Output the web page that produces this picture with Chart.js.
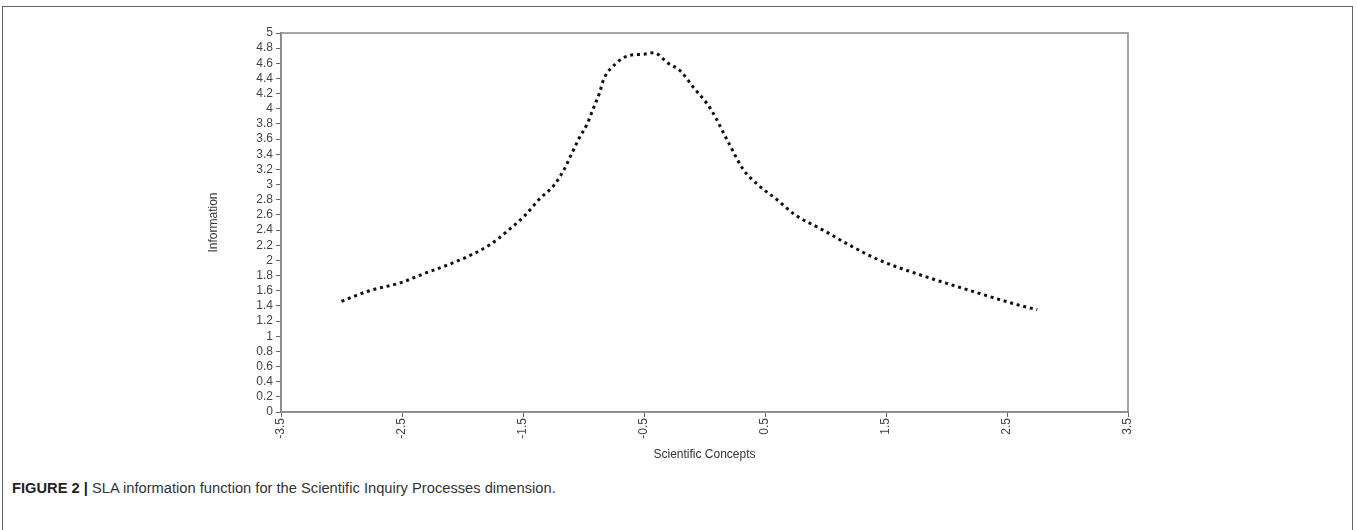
<!DOCTYPE html>
<html>
<head>
<meta charset="utf-8">
<script src="https://cdn.jsdelivr.net/npm/chart.js@4.4.1/dist/chart.umd.min.js"></script>
<style>
    html, body { margin: 0; padding: 0; background: #fff; }
    body { width: 1357px; height: 530px; position: relative; overflow: hidden; }
    #frame {
        position: absolute; left: 2px; top: 6px; width: 1351px; height: 560px;
        border: 1.5px solid #666; box-sizing: border-box;
    }
    #chart-box { position: absolute; left: 0; top: 0; width: 1357px; height: 470px; }
    #caption {
        position: absolute; left: 12px; top: 480px;
        font-family: "Liberation Sans", Arial, sans-serif;
        font-size: 14.7px; color: #333; white-space: nowrap;
    }
    #caption b { color: #222; }
</style>
</head>
<body>
<div id="frame"></div>
<div id="chart-box"><canvas id="infoChart"></canvas></div>
<div id="caption"><b>FIGURE 2 |</b> SLA information function for the Scientific Inquiry Processes dimension.</div>

<script>
// theta (Scientific Concepts) and information values
const thetaValues = [-3.0, -2.77, -2.5, -2.36, -2.03, -1.78, -1.62, -1.48, -1.37, -1.24, -1.16, -1.1,
    -1.04, -0.97, -0.92, -0.87, -0.83, -0.73, -0.63, -0.5, -0.42, -0.3, -0.2, -0.1, 0.05, 0.2,
    0.32, 0.44, 0.6, 0.75, 0.98, 1.2, 1.45, 1.8, 2.2, 2.62, 2.75];
const infoValues = [1.46, 1.6, 1.71, 1.8, 2.0, 2.2, 2.4, 2.6, 2.8, 3.0, 3.2, 3.4,
    3.6, 3.8, 4.0, 4.2, 4.4, 4.6, 4.7, 4.72, 4.74, 4.6, 4.5, 4.3, 4.0, 3.55,
    3.2, 3.0, 2.8, 2.6, 2.4, 2.2, 2.0, 1.8, 1.6, 1.4, 1.35];

const xTickValues = [-3.5, -2.5, -1.5, -0.5, 0.5, 1.5, 2.5, 3.5];
const yTickValues = [0, 0.2, 0.4, 0.6, 0.8, 1, 1.2, 1.4, 1.6, 1.8, 2, 2.2, 2.4, 2.6, 2.8,
    3, 3.2, 3.4, 3.6, 3.8, 4, 4.2, 4.4, 4.6, 4.8, 5];

const xTitle = 'Scientific Concepts';
const yTitle = 'Information';

const axisColor = '#888';
const textColor = '#444';
const tickFont = { family: '"Liberation Sans", Arial, sans-serif', size: 12 };
const titleFont = { family: '"Liberation Sans", Arial, sans-serif', size: 12 };

// draws the top and right edges of the plot box
const plotFrame = {
    id: 'plotFrame',
    afterDraw(chart) {
        const { ctx, chartArea } = chart;
        ctx.save();
        ctx.strokeStyle = axisColor;
        ctx.lineWidth = 1.5;
        ctx.strokeRect(chartArea.left, chartArea.top, chartArea.right - chartArea.left, chartArea.bottom - chartArea.top);
        ctx.restore();
    }
};

new Chart(document.getElementById('infoChart'), {
    type: 'line',
    data: {
        datasets: [{
            data: thetaValues.map((t, i) => ({ x: t, y: infoValues[i] })),
            borderColor: '#111',
            borderWidth: 3,
            borderDash: [3, 3.8],
            borderCapStyle: 'butt',
            pointRadius: 0,
            cubicInterpolationMode: 'monotone',
            fill: false
        }]
    },
    options: {
        responsive: true,
        maintainAspectRatio: false,
        animation: false,
        events: [],
        layout: { padding: { left: 202, right: 229, top: 33, bottom: 8 } },
        plugins: {
            legend: { display: false },
            tooltip: { enabled: false }
        },
        scales: {
            x: {
                type: 'linear',
                min: -3.5,
                max: 3.5,
                afterBuildTicks: scale => { scale.ticks = xTickValues.map(v => ({ value: v })); },
                afterFit: scale => { scale.height = 50; },
                grid: { drawOnChartArea: false, drawTicks: true, tickLength: 5, color: '#666' },
                border: { display: true, color: axisColor, width: 1.5 },
                ticks: {
                    autoSkip: false, minRotation: 90, maxRotation: 90, padding: 1,
                    color: textColor, font: tickFont,
                    callback: v => String(v)
                },
                title: { display: true, text: xTitle, color: '#333', font: titleFont, padding: { top: 0, bottom: 0 } }
            },
            y: {
                min: 0,
                max: 5,
                afterBuildTicks: scale => { scale.ticks = yTickValues.map(v => ({ value: v })); },
                afterFit: scale => { scale.width = 79; },
                grid: { drawOnChartArea: false, drawTicks: true, tickLength: 5, color: '#666' },
                border: { display: true, color: axisColor, width: 1.5 },
                ticks: {
                    autoSkip: false, padding: 3, color: textColor, font: tickFont,
                    callback: v => String(v)
                },
                title: { display: true, text: yTitle, color: '#333', font: titleFont, padding: { top: 4, bottom: 4 } }
            }
        }
    },
    plugins: [plotFrame]
});
</script>
</body>
</html>
